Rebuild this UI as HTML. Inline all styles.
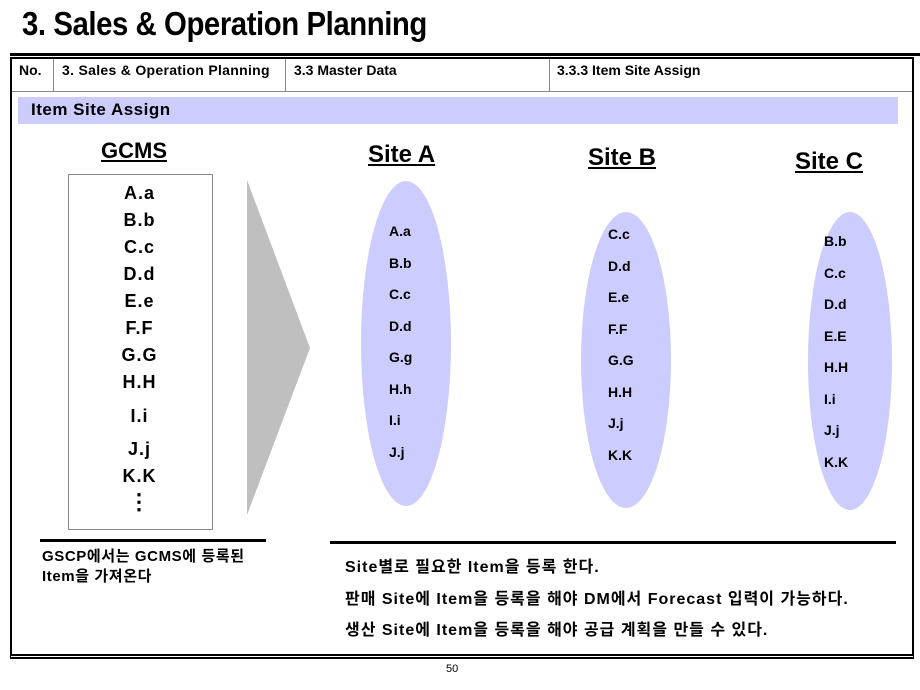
<!DOCTYPE html>
<html><head><meta charset="utf-8"><style>
body{margin:0;width:920px;height:690px;background:#fff;position:relative;overflow:hidden;font-family:"Liberation Sans","Noto Sans CJK KR",sans-serif;}
.a{position:absolute;}
.t{white-space:nowrap;font-weight:bold;}
.ell{position:absolute;background:#ccccff;border-radius:50%;}
.lst{position:absolute;font-weight:bold;font-size:14px;line-height:31.5px;}
</style></head><body>
<div class="a t" style="left:22px;top:5px;font-size:33px;transform:scaleX(0.89);transform-origin:left;letter-spacing:-0.5px">3. Sales &amp; Operation Planning</div>
<div class="a" style="left:10px;top:53px;width:910px;height:3px;background:#000"></div>
<div class="a" style="left:10px;top:57px;width:900px;height:595px;border:2px solid #000;border-bottom:5px double #000"></div>
<div class="a" style="left:12px;top:91px;width:900px;height:1px;background:#888"></div>
<div class="a" style="left:53px;top:59px;width:1px;height:33px;background:#888"></div>
<div class="a" style="left:285px;top:59px;width:1px;height:33px;background:#888"></div>
<div class="a" style="left:549px;top:59px;width:1px;height:33px;background:#888"></div>
<div class="a t" style="left:19px;top:62px;font-size:14px">No.</div>
<div class="a t" style="left:62px;top:62px;font-size:14px;letter-spacing:0.3px">3. Sales &amp; Operation Planning</div>
<div class="a t" style="left:294px;top:62px;font-size:14px">3.3 Master Data</div>
<div class="a t" style="left:557px;top:62px;font-size:14px">3.3.3 Item Site Assign</div>
<div class="a" style="left:18px;top:97px;width:880px;height:27px;background:#ccccff"></div>
<div class="a t" style="left:31px;top:100px;font-size:17px;letter-spacing:0.5px">Item Site Assign</div>

<div class="a t" style="left:101px;top:138px;font-size:22px;text-decoration:underline">GCMS</div>
<div class="a" style="left:68px;top:174px;width:143px;height:354px;border:1px solid #888"></div>
<div class="a t" style="left:68px;top:180px;width:143px;text-align:center;font-size:18px;line-height:27px;letter-spacing:1px">A.a<br>B.b<br>C.c<br>D.d<br>E.e<br>F.F<br>G.G<br>H.H<br><span style="line-height:40px">I.i</span><br>J.j<br>K.K<br><span style="font-size:22px;line-height:20px">&#8942;</span></div>
<svg class="a" style="left:0;top:0" width="920" height="690"><polygon points="247,180 310,348 247,515" fill="#bfbfbf"/></svg>

<div class="a t" style="left:368px;top:141px;font-size:24px;text-decoration:underline">Site A</div>
<div class="a t" style="left:588px;top:144px;font-size:24px;text-decoration:underline">Site B</div>
<div class="a t" style="left:795px;top:148px;font-size:24px;text-decoration:underline">Site C</div>
<div class="ell" style="left:361px;top:181px;width:90px;height:325px"></div>
<div class="ell" style="left:581px;top:212px;width:90px;height:296px"></div>
<div class="ell" style="left:808px;top:212px;width:84px;height:298px"></div>
<div class="lst" style="left:389px;top:216px">A.a<br>B.b<br>C.c<br>D.d<br>G.g<br>H.h<br>I.i<br>J.j</div>
<div class="lst" style="left:608px;top:219px">C.c<br>D.d<br>E.e<br>F.F<br>G.G<br>H.H<br>J.j<br>K.K</div>
<div class="lst" style="left:824px;top:226px">B.b<br>C.c<br>D.d<br>E.E<br>H.H<br>I.i<br>J.j<br>K.K</div>

<div class="a" style="left:40px;top:539px;width:226px;height:3px;background:#000"></div>
<div class="a" style="left:330px;top:541px;width:566px;height:3px;background:#000"></div>
<div class="a t" style="left:42px;top:547px;font-size:15px;line-height:20px;letter-spacing:0.6px">GSCP에서는 GCMS에 등록된<br>Item을 가져온다</div>
<div class="a t" style="left:345px;top:552px;font-size:16px;line-height:31.5px;letter-spacing:1px">Site별로 필요한 Item을 등록 한다.<br>판매 Site에 Item을 등록을 해야 DM에서 Forecast 입력이 가능하다.<br>생산 Site에 Item을 등록을 해야 공급 계획을 만들 수 있다.</div>
<div class="a" style="left:446px;top:663px;font-size:11px">50</div>
</body></html>
